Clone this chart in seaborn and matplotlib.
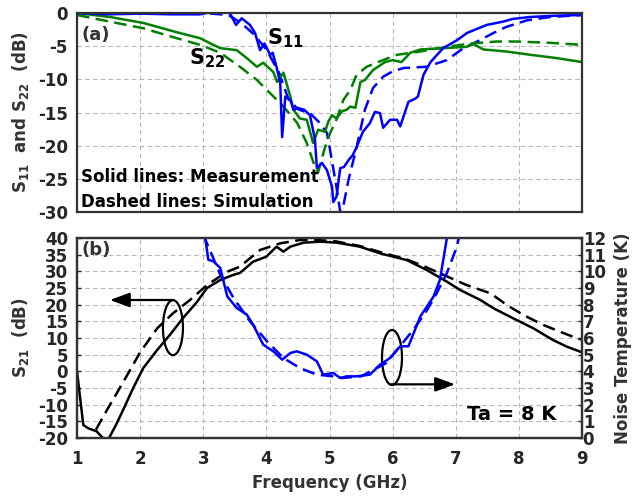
import numpy as np
import pandas as pd
import seaborn as sns
import matplotlib
matplotlib.use("Agg")
import matplotlib.pyplot as plt
from matplotlib.patches import Ellipse

# ---------------- data ----------------
f_s11_meas = [1.0, 1.5, 2.0, 2.5, 2.95, 3.1, 3.3, 3.42, 3.52, 3.61, 3.74, 3.82, 3.9, 3.97,
              4.06, 4.1, 4.16, 4.22, 4.25, 4.3, 4.38, 4.43, 4.5, 4.6, 4.69, 4.77, 4.8, 4.88,
              4.96, 5.04, 5.06, 5.11, 5.17, 5.23, 5.3, 5.37, 5.43, 5.53, 5.64, 5.72, 5.8,
              5.85, 5.96, 6.07, 6.12, 6.25, 6.36, 6.4, 6.49, 6.6, 6.8, 7.02, 7.18, 7.49,
              7.75, 7.9, 8.18, 8.6, 9.0]
s11_meas = [0, -0.2, -0.1, -0.2, -0.2, 0.1, 0.2, 0.0, -1.8, -0.8, -1.8, -3.0, -5.6, -4.6,
            -6.3, -6.0, -8.1, -10.6, -18.7, -12.6, -13.1, -14.6, -14.3, -14.6, -15.4, -19.1,
            -23.4, -22.6, -23.7, -26.2, -28.5, -27.7, -23.4, -23.2, -22.2, -21.4, -20.2,
            -17.9, -16.6, -14.9, -15.1, -17.3, -16.1, -16.1, -17.1, -13.4, -12.9, -12.6,
            -9.3, -7.4, -5.3, -4.1, -3.0, -1.8, -1.3, -0.9, -0.6, -0.4, -0.3]

f_s11_sim = [1.0, 2.0, 3.0, 3.4, 3.6, 3.8, 4.0, 4.2, 4.35, 4.5, 4.7, 4.85, 4.96, 5.01, 5.11,
             5.17, 5.185, 5.2, 5.3, 5.43, 5.56, 5.69, 5.85, 6.0, 6.17, 6.54, 6.86, 7.12,
             7.34, 7.6, 7.8, 8.13, 8.5, 9.0]
s11_sim = [0, 0, 0, -0.3, -1.5, -3.2, -5.5, -9.0, -13.0, -14.5, -15.2, -16.6, -18.1, -20.7,
           -26.2, -30.0, -31.5, -30.0, -25.2, -20.2, -14.6, -11.3, -9.6, -8.8, -8.3, -8.1,
           -7.1, -5.3, -4.3, -3.0, -2.1, -1.1, -0.6, -0.3]

f_s22_meas = [1.0, 1.52, 2.05, 2.58, 2.95, 3.16, 3.27, 3.53, 3.69, 3.85, 3.95, 4.11, 4.17,
              4.27, 4.38, 4.43, 4.53, 4.64, 4.74, 4.82, 4.93, 4.98, 5.04, 5.11, 5.2, 5.27,
              5.33, 5.41, 5.49, 5.56, 5.69, 5.88, 6.0, 6.14, 6.28, 6.44, 6.8, 7.17, 7.28,
              7.44, 7.8, 8.18, 8.6, 9.0]
s22_meas = [0, -0.6, -1.5, -2.9, -3.8, -4.8, -5.3, -5.6, -6.8, -8.1, -7.5, -8.9, -10.4,
            -9.0, -12.6, -14.6, -15.9, -16.1, -19.6, -17.6, -17.9, -16.4, -15.4, -15.9,
            -14.8, -14.6, -14.1, -14.3, -10.4, -10.1, -8.6, -7.4, -7.1, -7.4, -6.0, -5.5,
            -5.3, -5.1, -4.7, -5.5, -5.8, -6.3, -6.8, -7.4]

f_s22_sim = [1.0, 1.52, 2.05, 2.58, 2.95, 3.27, 3.58, 3.85, 4.06, 4.27, 4.49, 4.64, 4.77,
             4.82, 4.93, 5.01, 5.11, 5.22, 5.33, 5.43, 5.59, 5.85, 6.07, 6.44, 6.86, 7.23,
             7.65, 7.96, 8.5, 9.0]
s22_sim = [-0.3, -1.3, -2.3, -3.8, -4.8, -6.0, -8.1, -10.1, -12.1, -14.1, -16.6, -19.6,
           -23.2, -24.0, -20.2, -18.1, -16.1, -13.1, -11.6, -9.3, -8.1, -7.1, -6.3, -5.8,
           -5.1, -4.6, -4.3, -4.3, -4.5, -4.8]

f_s21_meas = [1.0, 1.1, 1.18, 1.31, 1.42, 1.5, 1.63, 1.73, 1.89, 2.05, 2.27, 2.47, 2.68,
              2.9, 3.06, 3.27, 3.47, 3.58, 3.79, 4.0, 4.16, 4.27, 4.38, 4.59, 4.85, 5.12,
              5.48, 5.8, 6.22, 6.54, 6.86, 7.07, 7.39, 7.6, 7.91, 8.23, 8.54, 8.76, 9.0]
s21_meas = [0, -16.1, -17.1, -18.0, -20.2, -20.3, -15.6, -11.6, -5.0, 1.0, 6.4, 10.9, 16.0,
            20.8, 25.0, 27.4, 28.9, 29.5, 32.9, 34.4, 37.4, 35.9, 37.4, 38.6, 38.9, 38.6,
            37.4, 35.4, 33.4, 30.4, 26.9, 24.4, 21.4, 18.9, 15.9, 12.9, 9.4, 7.4, 5.7]

f_s21_sim = [1.3, 1.37, 1.52, 1.73, 2.0, 2.27, 2.52, 2.79, 3.06, 3.37, 3.58, 3.9, 4.22,
             4.53, 4.8, 5.1, 5.48, 5.8, 6.22, 6.5, 6.8, 7.17, 7.55, 7.81, 8.07, 8.39, 8.65,
             8.92, 9.0]
s21_sim = [-17.5, -15.1, -10.1, -3.3, 5.7, 12.9, 17.4, 21.4, 25.9, 29.8, 31.4, 36.4, 38.4,
           39.4, 39.4, 39.0, 37.6, 35.8, 33.6, 31.5, 29.0, 25.9, 23.4, 19.9, 16.9, 13.9,
           11.9, 9.9, 9.5]

f_nt_meas = [3.02, 3.08, 3.16, 3.27, 3.38, 3.53, 3.69, 3.79, 3.95, 4.11, 4.25, 4.38, 4.48,
             4.64, 4.8, 4.9, 5.06, 5.17, 5.27, 5.43, 5.64, 5.8, 5.96, 6.12, 6.25, 6.44,
             6.65, 6.75, 6.86, 6.9]
nt_meas = [12.3, 10.7, 10.6, 10.2, 8.5, 7.8, 7.4, 6.8, 5.6, 5.2, 4.7, 5.1, 5.2, 5.0, 4.6,
           3.8, 3.9, 3.6, 3.7, 3.7, 3.8, 4.4, 4.8, 5.5, 5.5, 7.3, 8.5, 9.5, 12.0, 12.5]

f_nt_sim = [3.0, 3.27, 3.48, 3.74, 4.01, 4.27, 4.53, 4.8, 5.06, 5.2, 5.5, 5.9, 6.33, 6.55,
            6.7, 6.86, 7.02, 7.06]
nt_sim = [12.2, 9.8, 8.4, 7.0, 5.8, 4.8, 4.2, 3.8, 3.7, 3.6, 3.7, 4.5, 6.5, 7.7, 8.7, 9.9,
          11.5, 12.2]

freq_ticks = [1, 2, 3, 4, 5, 6, 7, 8, 9]
top_yticks = [0, -5, -10, -15, -20, -25, -30]
s21_yticks = list(range(-20, 41, 5))
nt_yticks = list(range(0, 13))

# ---------------- style ----------------
sns.set_style("white")
plt.rcParams["font.family"] = ["DejaVu Sans"]
plt.rcParams["font.weight"] = "bold"
plt.rcParams["mathtext.fontset"] = "dejavusans"
plt.rcParams["mathtext.default"] = "bf"

BLUE = "#0000FF"
GREEN = "#008000"
LW = 1.8
DASH = (0, (5, 2.6))
TICK_C = "#262626"
LAB_C = "#333333"
FS = 12

fig = plt.figure(figsize=(6.36, 4.96), dpi=100)
ax1 = fig.add_axes([77 / 636, 1 - 212 / 496, (582 - 77) / 636, (212 - 13) / 496])
ax2 = fig.add_axes([77 / 636, 1 - 438 / 496, (582 - 77) / 636, (438 - 238) / 496])
ax3 = ax2.twinx()


def style_axes(ax):
    for s in ax.spines.values():
        s.set_color("#333333")
        s.set_linewidth(1.6)
    ax.tick_params(direction="in", length=3, width=1, colors=TICK_C, labelsize=FS)
    for lab in ax.get_xticklabels() + ax.get_yticklabels():
        lab.set_fontweight("bold")


def draw(ax, x, y, color, ls):
    df = pd.DataFrame({"f": x, "v": y})
    sns.lineplot(data=df, x="f", y="v", ax=ax, color=color, linewidth=LW,
                 linestyle=ls, estimator=None, sort=False)


# ---------------- top panel ----------------
draw(ax1, f_s11_sim, s11_sim, BLUE, DASH)
draw(ax1, f_s22_sim, s22_sim, GREEN, DASH)
draw(ax1, f_s22_meas, s22_meas, GREEN, "-")
draw(ax1, f_s11_meas, s11_meas, BLUE, "-")
ax1.set_xlim(1, 9)
ax1.set_ylim(-30, 0)
ax1.set_xticks(freq_ticks)
ax1.set_xticklabels([])
ax1.set_yticks(top_yticks)
ax1.set_yticklabels([str(t) for t in top_yticks])
ax1.grid(True, color="#b8b8b8", linestyle=(0, (4, 3)), linewidth=0.8)
ax1.set_xlabel("")
ax1.set_ylabel("S$_{11}$  and S$_{22}$  (dB)", fontsize=FS, fontweight="bold",
               color=LAB_C, labelpad=5)
style_axes(ax1)
ax1.tick_params(axis="y", pad=6.5)
ax1.text(1.07, -3.3, "(a)", fontsize=13, fontweight="bold", color="#333333",
         ha="left", va="center")
ax1.text(4.01, -4.8, "S$_{11}$", fontsize=15, fontweight="bold", color="black",
         ha="left", va="baseline")
ax1.text(2.77, -7.8, "S$_{22}$", fontsize=15, fontweight="bold", color="black",
         ha="left", va="baseline")
ax1.text(1.07, -25.5, "Solid lines: Measurement", fontsize=FS, fontweight="bold",
         color="black", ha="left", va="baseline")
ax1.text(1.07, -29.2, "Dashed lines: Simulation", fontsize=FS, fontweight="bold",
         color="black", ha="left", va="baseline")

# ---------------- bottom panel ----------------
draw(ax2, f_s21_sim, s21_sim, "black", DASH)
draw(ax2, f_s21_meas, s21_meas, "black", "-")
draw(ax3, f_nt_sim, nt_sim, BLUE, DASH)
draw(ax3, f_nt_meas, nt_meas, BLUE, "-")
ax2.set_xlim(1, 9)
ax2.set_ylim(-20, 40)
ax3.set_ylim(0, 12)
ax2.set_xticks(freq_ticks)
ax2.set_xticklabels([str(t) for t in freq_ticks])
ax2.set_yticks(s21_yticks)
ax2.set_yticklabels([str(t) for t in s21_yticks])
ax3.set_yticks(nt_yticks)
ax3.set_yticklabels([str(t) for t in nt_yticks])
ax2.grid(True, color="#b8b8b8", linestyle=(0, (4, 3)), linewidth=0.8)
ax2.set_xlabel("Frequency (GHz)", fontsize=FS, fontweight="bold", color=LAB_C, labelpad=4)
ax2.set_ylabel("S$_{21}$  (dB)", fontsize=FS, fontweight="bold", color=LAB_C, labelpad=5)
ax3.set_xlabel("")
ax3.set_ylabel("Noise Temperature (K)", fontsize=FS, fontweight="bold", color=LAB_C,
               labelpad=6)
style_axes(ax2)
style_axes(ax3)
ax2.tick_params(axis="x", pad=9)
ax2.tick_params(axis="y", pad=6.5)
ax3.tick_params(axis="y", pad=0.5)

ax2.text(1.07, 36.3, "(b)", fontsize=13, fontweight="bold", color="#333333",
         ha="left", va="center")
ax2.text(7.18, -14.6, "Ta = 8 K", fontsize=14, fontweight="bold", color="black",
         ha="left", va="baseline")

ax2.add_patch(Ellipse((2.52, 13.1), 0.317, 16.5, fill=False, edgecolor="black", lw=1.6))
ax2.add_patch(Ellipse((5.99, 4.15), 0.317, 16.5, fill=False, edgecolor="black", lw=1.6))
arrow_kw = dict(arrowstyle="-|>,head_length=0.6,head_width=0.22", color="black",
                lw=1.6, mutation_scale=20, shrinkA=0, shrinkB=0)
ax2.annotate("", xy=(1.52, 21.4), xytext=(2.52, 21.4), arrowprops=arrow_kw)
ax2.annotate("", xy=(6.99, -3.9), xytext=(5.98, -3.9), arrowprops=arrow_kw)

fig.savefig("out.png", dpi=100)
